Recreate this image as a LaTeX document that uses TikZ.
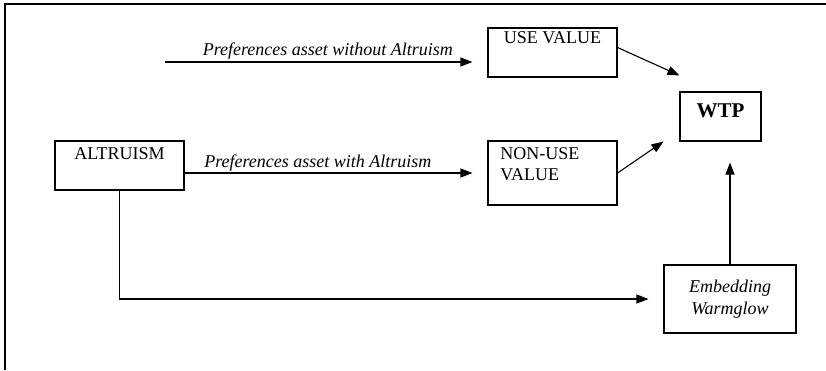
\documentclass[tikz,border=0pt]{standalone}
\usepackage{fontspec}
\setmainfont{Liberation Serif}
\usetikzlibrary{calc, arrows.meta}

\begin{document}
\begin{tikzpicture}[x=1pt, y=-1pt, line width=1.1pt,
    box/.style={draw, rectangle, inner sep=0pt},
    flow/.style={-{Triangle[length=12pt, width=9pt]}},
    every node/.style={font=\fontsize{18}{21}\selectfont}]

  \useasboundingbox (0, 0) rectangle (826, 370);
  \draw[line width=2pt] (5, 370) -- (5, 4) -- (826, 4);

  \node[box, minimum width=129, minimum height=49,
        label={[anchor=north, yshift=-3pt]north:ALTRUISM}] (altruism) at (119.5, 165.5) {};
  \node[box, minimum width=129, minimum height=49,
        label={[anchor=north, yshift=0pt]north:USE VALUE}] (use) at (552.5, 52.5) {};
  \node[box, minimum width=129, minimum height=64,
        label={[anchor=north west, align=left, xshift=9pt, yshift=-3pt]north west:NON-USE\\VALUE}] (nonuse) at (552.5, 173) {};
  \node[box, minimum width=81, minimum height=49,
        label={[yshift=6pt, font=\fontsize{21}{24}\selectfont\bfseries]center:WTP}] (wtp) at (720.5, 116.5) {};
  \node[box, minimum width=132, minimum height=68, align=center,
        font=\fontsize{18}{22}\selectfont\itshape] (warm) at (730, 299) {Embedding\\Warmglow};

  \coordinate (start) at (165, 62);

  \draw[flow, shorten >=15pt] (start) -- (start -| use.west)
    node[pos=0.505, above=-1pt, font=\fontsize{18}{21}\selectfont\itshape] {Preferences asset without Altruism};
  \draw[flow, shorten >=15pt] (altruism.east |- nonuse.west) -- (nonuse.west)
    node[pos=0.44, above=-2pt, font=\fontsize{18}{21}\selectfont\itshape] {Preferences asset with Altruism};
  \draw[flow, shorten >=15pt] (altruism.south) |- (warm.west);
  \draw[flow, shorten >=21pt] (warm.north) -- (warm.north |- wtp.south);
  \draw[flow] ([yshift=5pt]use.east) -- ([yshift=16pt]wtp.north west);
  \draw[flow] (nonuse.east) -- ([xshift=-16pt]wtp.south west);

\end{tikzpicture}
\end{document}
